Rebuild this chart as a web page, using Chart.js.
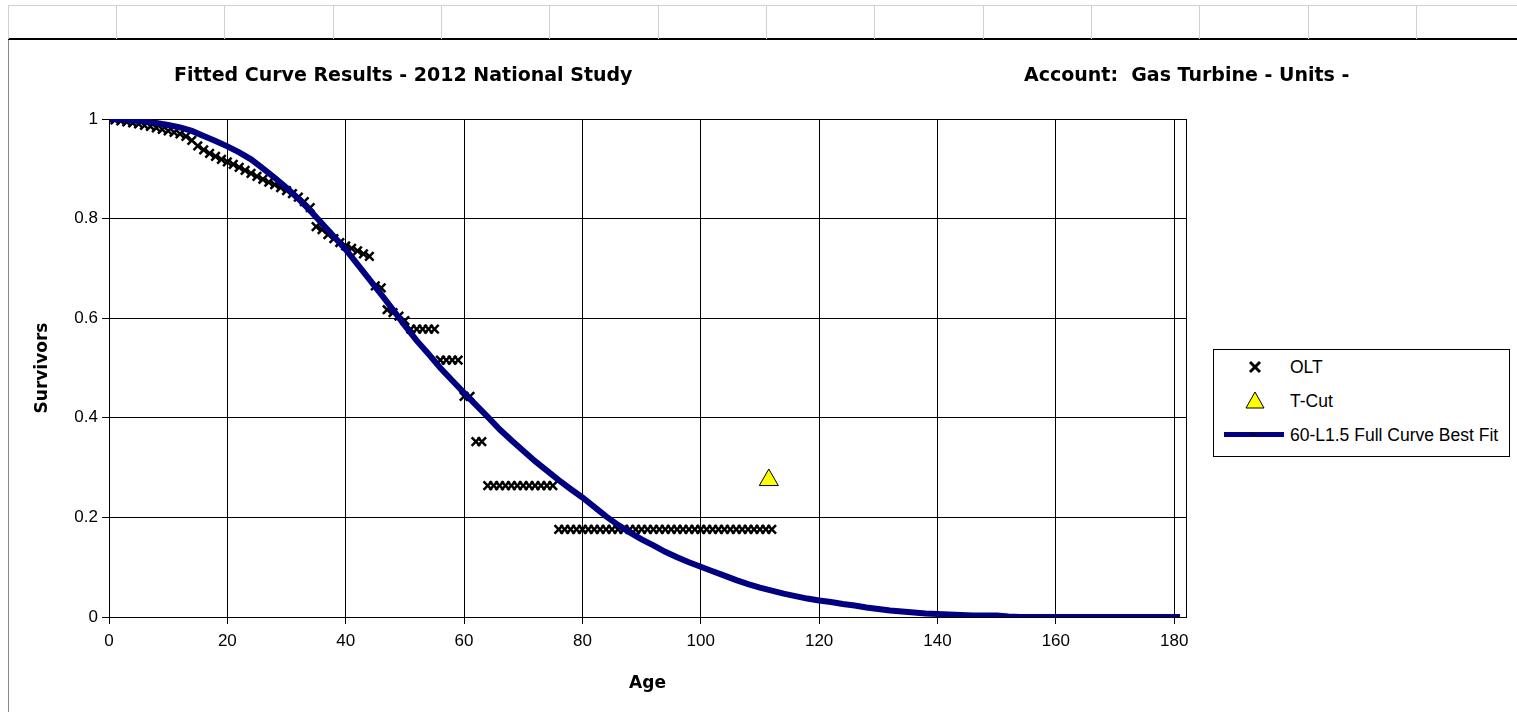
<!DOCTYPE html>
<html><head><meta charset="utf-8">
<script src="https://cdn.jsdelivr.net/npm/chart.js@4.4.1/dist/chart.umd.min.js"></script>
<style>
html,body{margin:0;padding:0;background:#fff;width:1517px;height:712px;overflow:hidden;position:relative}
.vl{position:absolute;top:5px;height:34px;width:1px;background:#d0d0d0}
#topline{position:absolute;left:8px;top:5px;width:1509px;height:1px;background:#d0d0d0}
#blackline{position:absolute;left:8px;top:38px;width:1509px;height:2px;background:#000}
#leftline{position:absolute;left:8px;top:40px;width:1px;height:672px;background:#8a8a8a}
#wrap{position:absolute;left:9px;top:40px;width:1508px;height:672px}
.ttl{position:absolute;font-family:'DejaVu Sans',sans-serif;font-weight:bold;font-size:19px;white-space:pre;line-height:22px;color:#000}
#legend{position:absolute;left:1213px;top:349px;width:295px;height:106px;border:1px solid #000;font-family:'Liberation Sans',Arial,sans-serif;font-size:17.5px;background:#fff;color:#000}
.li{position:absolute;left:76px;line-height:20px;white-space:pre}
.sym{position:absolute}
</style></head>
<body>
<div id="topline"></div>
<div id="blackline"></div>
<div id="leftline"></div>
<div id="cells"></div>
<div id="wrap"><canvas id="c"></canvas></div>
<div class="ttl" id="t1" style="left:174px;top:63px">Fitted Curve Results - 2012 National Study</div>
<div class="ttl" id="t2" style="left:1024px;top:63px">Account:  Gas Turbine - Units -</div>
<div id="legend">
  <svg class="sym" style="left:33px;top:9px" width="16" height="16"><path d="M3 3 L13 13 M13 3 L3 13" stroke="#000" stroke-width="3"/></svg>
  <div class="li" id="lg1" style="top:7px">OLT</div>
  <svg class="sym" style="left:30px;top:40px" width="22" height="20"><path d="M11 2 L20 18 L2 18 Z" fill="#ffff00" stroke="#000" stroke-width="1"/></svg>
  <div class="li" id="lg2" style="top:41px">T-Cut</div>
  <svg class="sym" style="left:10px;top:80px" width="60" height="10"><rect x="0" y="2" width="60" height="5" fill="#000080"/><rect x="26" y="2.5" width="7" height="4" fill="#000040" stroke="#000080" stroke-width="1"/></svg>
  <div class="li" id="lg3" style="top:75px">60-L1.5 Full Curve Best Fit</div>
</div>
<script>
// ---- data ----
const cellLineX = [8,116,224,333,441,549,658,766,874,983,1091,1199,1308,1416];
const xTickValues = [0,20,40,60,80,100,120,140,160,180];
const yTickValues = [0,0.2,0.4,0.6,0.8,1];
const yTickLabels = ['0','0.2','0.4','0.6','0.8','1'];

const curveAges = [0,2,4,6,8,10,12,14,16,18,20,22,24,26,28,30,32,34,36,38,40,42,44,46,48,50,52,54,56,58,60,62,64,66,68,70,72,74,76,78,80,82,84,86,88,90,92,94,96,98,100,102,104,106,108,110,112,114,116,118,120,122,124,126,128,130,132,134,136,138,140,142,144,146,148,150,152,154,156,158,160,162,164,166,168,170,172,174,176,178,180,181];
const curveSurv = [1.000,0.999,0.997,0.995,0.992,0.988,0.983,0.976,0.966,0.956,0.945,0.933,0.919,0.901,0.882,0.862,0.840,0.816,0.790,0.764,0.738,0.708,0.678,0.648,0.617,0.585,0.555,0.528,0.500,0.475,0.450,0.426,0.402,0.377,0.355,0.334,0.313,0.294,0.275,0.257,0.240,0.221,0.202,0.185,0.170,0.156,0.144,0.131,0.120,0.110,0.101,0.092,0.083,0.074,0.066,0.059,0.053,0.047,0.042,0.037,0.033,0.030,0.026,0.023,0.019,0.016,0.013,0.011,0.009,0.007,0.006,0.005,0.004,0.003,0.003,0.003,0.001,0,0,0,0,0,0,0,0,0,0,0,0,0,0,0];

const oltAges = [0,1,2,3,4,5,6,7,8,9,10,11,12,13,14,15,16,17,18,19,20,21,22,23,24,25,26,27,28,29,30,31,32,33,34,35,36,37,38,39,40,41,42,43,44,45,46,47,48,49,50,51,52,53,54,55,56,57,58,59,60,61,62,63,64,65,66,67,68,69,70,71,72,73,74,75,76,77,78,79,80,81,82,83,84,85,86,87,88,89,90,91,92,93,94,95,96,97,98,99,100,101,102,103,104,105,106,107,108,109,110,111,112];
const oltSurv = [1.000,0.998,0.996,0.994,0.992,0.990,0.987,0.985,0.982,0.979,
0.976,0.973,0.970,0.965,0.957,0.946,0.938,0.931,0.925,0.919,
0.914,0.909,0.903,0.897,0.891,0.885,0.879,0.873,0.868,0.862,
0.856,0.850,0.843,0.834,0.822,0.784,0.778,0.768,0.760,0.752,
0.745,0.740,0.735,0.729,0.724,0.665,0.661,0.617,0.611,0.604,
0.595,0.578,0.578,0.578,0.578,0.578,0.516,0.516,0.516,0.516,
0.443,0.443,0.352,0.352,0.264,0.264,0.264,0.264,0.264,0.264,
0.264,0.264,0.264,0.264,0.264,0.264,0.176,0.176,0.176,0.176,
0.176,0.176,0.176,0.176,0.176,0.176,0.176,0.176,0.176,0.176,
0.176,0.176,0.176,0.176,0.176,0.176,0.176,0.176,0.176,0.176,
0.176,0.176,0.176,0.176,0.176,0.176,0.176,0.176,0.176,0.176,
0.176,0.176,0.176];

const tcutAges = [111.5];
const tcutSurv = [0.275];

// spreadsheet cell lines
const cells = document.getElementById('cells');
cellLineX.forEach(x => { const d = document.createElement('div'); d.className = 'vl'; d.style.left = x + 'px'; cells.appendChild(d); });

Chart.defaults.font.family = "'Liberation Sans', Arial, sans-serif";
Chart.defaults.color = '#000';

const plotBorder = {
  id: 'plotBorder',
  beforeDatasetsDraw(chart) {
    const a = chart.chartArea, ctx = chart.ctx;
    ctx.save();
    ctx.strokeStyle = '#000';
    ctx.lineWidth = 1;
    ctx.strokeRect(Math.round(a.left) + 0.5, Math.round(a.top) + 0.5, Math.round(a.right - a.left), Math.round(a.bottom - a.top));
    ctx.restore();
  }
};

new Chart(document.getElementById('c'), {
  type: 'scatter',
  data: {
    datasets: [
      {
        type: 'line',
        label: '60-L1.5 Full Curve Best Fit',
        data: curveAges.map((a, i) => ({ x: a, y: curveSurv[i] })),
        borderColor: '#000080',
        backgroundColor: '#000080',
        borderWidth: 6,
        pointRadius: 0,
        tension: 0,
        order: 0
      },
      {
        label: 'T-Cut',
        data: tcutAges.map((a, i) => ({ x: a, y: tcutSurv[i] })),
        pointStyle: 'triangle',
        pointRadius: 11,
        backgroundColor: '#ffff00',
        borderColor: '#000',
        borderWidth: 1,
        order: 1
      },
      {
        label: 'OLT',
        data: oltAges.map((a, i) => ({ x: a, y: oltSurv[i] })),
        pointStyle: 'crossRot',
        pointRadius: 6,
        borderColor: '#000',
        backgroundColor: '#000',
        borderWidth: 2.5,
        order: 2
      }
    ]
  },
  options: {
    responsive: true,
    maintainAspectRatio: false,
    animation: false,
    events: [],
    layout: { padding: { left: 0, right: 331, top: 79, bottom: 0 } },
    plugins: { legend: { display: false }, tooltip: { enabled: false } },
    scales: {
      x: {
        type: 'linear', min: 0, max: 182,
        afterBuildTicks(s) { s.ticks = xTickValues.map(v => ({ value: v })); },
        afterFit(s) { s.height = 95; },
        ticks: { font: { size: 17 }, padding: 7, color: '#000', maxRotation: 0 },
        grid: { color: '#000', lineWidth: 1, tickLength: 7, drawTicks: true },
        border: { display: true, color: '#000', width: 1 },
        title: { display: true, text: 'Age', color: '#000', font: { family: "'DejaVu Sans', sans-serif", size: 17, weight: 'bold' }, padding: { top: 0, bottom: 18 } }
      },
      y: {
        type: 'linear', min: 0, max: 1,
        afterBuildTicks(s) { s.ticks = yTickValues.map(v => ({ value: v })); },
        afterFit(s) { s.width = 100; },
        ticks: { font: { size: 17 }, padding: 4, color: '#000', callback: (v, i) => yTickLabels[i] },
        grid: { color: '#000', lineWidth: 1, tickLength: 7, drawTicks: true },
        border: { display: true, color: '#000', width: 1 },
        title: { display: true, text: 'Survivors', color: '#000', font: { family: "'DejaVu Sans', sans-serif", size: 17, weight: 'bold' }, padding: { top: 23, bottom: 0 } }
      }
    }
  },
  plugins: [plotBorder]
});
</script>
</body></html>
